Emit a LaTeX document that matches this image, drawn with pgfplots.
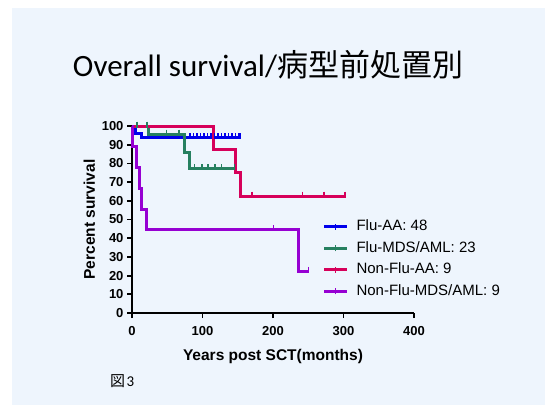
\documentclass[border=0pt]{standalone}
\usepackage{pgfplots}
\pgfplotsset{compat=1.18}
\usepackage{fontspec}
\setmainfont{Liberation Sans}
\newfontfamily\carlito{Carlito}
\newfontfamily\cjk{Noto Sans CJK JP}
\definecolor{bgblue}{RGB}{238,245,253}
\definecolor{cAA}{RGB}{0,0,235}
\definecolor{cMDS}{RGB}{38,128,96}
\definecolor{cNAA}{RGB}{214,0,90}
\definecolor{cNMDS}{RGB}{150,0,210}
\begin{document}
\begin{tikzpicture}
\path[use as bounding box] (0pt,0pt) rectangle (545pt,-405pt);
\fill[bgblue] (12pt,-8pt) rectangle (545pt,-405pt);
\node[font=\fontsize{31}{36}\selectfont, anchor=base, inner sep=0pt] at (268pt,-76pt) {{\carlito Overall survival/}{\cjk 病型前処置別}};
\node[font=\fontsize{15}{17}\selectfont, anchor=base west, inner sep=0pt] at (110pt,-386pt) {{\cjk 図}\hspace{1.5pt}{\carlito 3}};
\begin{axis}[
  at={(132pt,-313pt)}, anchor=south west,
  scale only axis, width=282pt, height=187pt,
  xmin=0, xmax=400, ymin=0, ymax=100,
  axis lines=left,
  axis line style={-, line width=2.2pt, black},
  clip=false,
  xtick={0,100,200,300,400},
  ytick={0,10,20,30,40,50,60,70,80,90,100},
  tick align=outside,
  major tick length=5pt,
  tick style={line width=1.8pt, black},
  /pgf/number format/assume math mode=true,
  ticklabel style={font=\fontsize{13}{15}\selectfont\bfseries},
  xticklabel shift=5pt,
  xlabel={Years post SCT(months)},
  ylabel={Percent survival},
  label style={font=\fontsize{15.5}{18}\selectfont\bfseries},
  xlabel style={yshift=-7pt},
  legend cell align=left,
  legend style={at={(0.675,0.505)}, anchor=north west, draw=none, fill=none,
    inner sep=0pt, row sep=5.5pt,
    font=\fontsize{15}{18}\selectfont,
    nodes={inner sep=1pt, text height=11pt, text depth=3pt},
    /tikz/every odd column/.append style={column sep=7pt}},
  legend image code/.code={
    \draw[#1] (0pt,0pt) -- (23pt,0pt);
    \draw[#1, line width=1.5pt] (11.5pt,-3pt) -- (11.5pt,3pt);
  },
]
\addplot[cAA, line width=3pt, const plot] coordinates {(0,100) (2,97.9) (5,95.8) (13,93.7) (153,93.7)};
\addlegendentry{Flu-AA: 48}
\addplot[cMDS, line width=3pt, const plot] coordinates {(0,100) (23,95.6) (74,86) (82,77.2) (146,77.2)};
\addlegendentry{Flu-MDS/AML: 23}
\addplot[cNAA, line width=3pt, const plot] coordinates {(0,100) (115,87.5) (147.5,75) (154.6,62.5) (302,62.5)};
\addlegendentry{Non-Flu-AA: 9}
\addplot[cNMDS, line width=3pt, const plot] coordinates {(0,100) (0.6,88.9) (7,77.8) (11,66.7) (14,55.6) (21,44.4) (236,22.2) (250,22.2)};
\addlegendentry{Non-Flu-MDS/AML: 9}
% censor marks
\addplot[cAA, only marks, mark=|, mark size=3pt, mark options={line width=1.5pt}, forget plot] coordinates {
(82,94.5) (87,94.5) (92,94.5) (97,94.5) (102,94.5) (107,94.5) (112,94.5) (117,94.5) (122,94.5) (127,94.5) (132,94.5) (137,94.5) (142,94.5) (147,94.5) (151,94.5) (153,94.5)};
\addplot[cMDS, only marks, mark=|, mark size=3pt, mark options={line width=1.5pt}, forget plot] coordinates {
(7,100.8) (21,100.8) (49,96.4) (67,96.4) (89,78) (99,78) (108,78) (118,78) (127,78) (145.5,78)};
\addplot[cNAA, only marks, mark=|, mark size=3pt, mark options={line width=1.5pt}, forget plot] coordinates {
(170,63.3) (242,63.3) (272,63.3) (302,63.3)};
\addplot[cNMDS, only marks, mark=|, mark size=3pt, mark options={line width=1.5pt}, forget plot] coordinates {
(201,45.2) (250,23)};
\end{axis}
\end{tikzpicture}
\end{document}
